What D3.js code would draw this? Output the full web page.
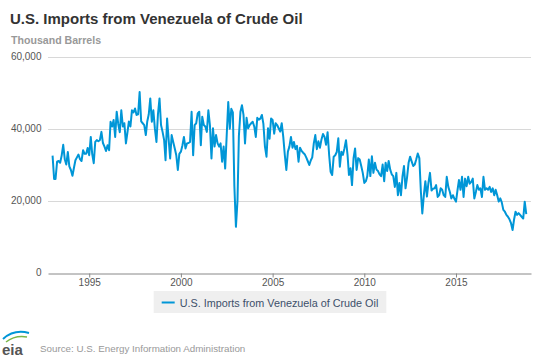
<!DOCTYPE html>
<html>
<head>
<meta charset="utf-8">
<script src="https://cdn.jsdelivr.net/npm/d3@7"></script>
<style>
  body { margin: 0; background: #fff; }
  text { font-family: "Liberation Sans", Arial, sans-serif; }
</style>
</head>
<body>
<div id="chart"></div>
<script>
var width = 540, height = 360;
var margin = { top: 56.7, right: 9, bottom: 87.5, left: 48 };

var chartTitle = "U.S. Imports from Venezuela of Crude Oil";
var unitLabel = "Thousand Barrels";
var seriesName = "U.S. Imports from Venezuela of Crude Oil";
var sourceText = "Source: U.S. Energy Information Administration";

var startYear = 1993;
var yTicks = [0, 20000, 40000, 60000];
var xTickYears = [1995, 2000, 2005, 2010, 2015];

// monthly, thousand barrels, Jan 1993 onward
var imports = [
  32500, 26000, 26000, 30800, 31000, 30500, 32500, 35500, 31500, 30000, 33500, 29500, // 1993
  28500, 26900, 29000, 31200, 32000, 32800, 31500, 31000, 34000, 33000, 33000, 34600, // 1994
  32600, 37700, 33000, 30400, 36300, 36800, 36500, 36800, 39100, 36000, 35000, 33800, // 1995
  35400, 34000, 41900, 40600, 42400, 37700, 44700, 41300, 39000, 45100, 40600, 41500, // 1996
  35900, 39000, 42000, 40600, 45100, 44500, 45600, 43800, 44000, 50200, 42000, 41500, // 1997
  41000, 38200, 41900, 44000, 48400, 41900, 45100, 40000, 36300, 44000, 48400, 41000, // 1998
  39100, 36800, 31200, 42800, 37200, 31700, 38200, 36300, 34500, 32600, 28500, 33000, // 1999
  33600, 35400, 37700, 34500, 35900, 36000, 36300, 44700, 32600, 41000, 41500, 44200, // 2000
  44700, 35400, 43300, 41000, 40600, 39100, 45100, 41000, 31700, 40100, 35000, 38200, // 2001
  35900, 35000, 35900, 30800, 35000, 28900, 38000, 47400, 40000, 45500, 44500, 24000, // 2002
  12700, 20000, 38000, 44700, 46500, 43800, 35900, 43000, 40100, 41000, 41500, 41900, // 2003
  40600, 37700, 43000, 42500, 42800, 43800, 41300, 35000, 32200, 40100, 37200, 42800, // 2004
  42400, 38600, 41500, 41000, 40100, 39200, 41500, 37700, 32600, 28500, 33600, 35000, // 2005
  37700, 34700, 36300, 34300, 35200, 30800, 34700, 33800, 33300, 32900, 32000, 31000, // 2006
  29900, 31200, 32000, 35900, 38200, 34300, 36500, 34700, 37000, 38500, 37700, 35500, // 2007
  39000, 32600, 28000, 27100, 32200, 32600, 33500, 37300, 29400, 33600, 32700, 34500, // 2008
  36800, 32700, 27100, 29000, 24300, 31800, 34500, 28500, 31800, 31400, 29600, 27700, // 2009
  24900, 25400, 26800, 31400, 26800, 32300, 27700, 30500, 28600, 28200, 27300, 26800, // 2010
  30000, 25400, 30500, 28200, 31000, 28600, 27300, 26800, 23800, 27700, 21500, 24900, // 2011
  21500, 26800, 29600, 23400, 26400, 30500, 32200, 30900, 29600, 30000, 31500, 33100, // 2012
  31800, 22400, 16400, 21500, 25400, 21100, 24900, 27700, 22800, 23300, 23400, 24300, // 2013
  21000, 21500, 23400, 23000, 21500, 21000, 26600, 23800, 22400, 20600, 21500, 20500, // 2014
  19700, 23000, 25700, 23000, 26600, 21000, 26100, 24000, 26600, 24700, 25200, 26100, // 2015
  20600, 22400, 24300, 23000, 23400, 21000, 26600, 23000, 23400, 23000, 23800, 22400, // 2016
  23400, 21500, 23000, 21500, 19700, 20600, 19500, 17400, 16900, 16000, 15500, 14800, // 2017
  13700, 11800, 14600, 16900, 16000, 16500, 16000, 15500, 15000, 19700, 16200          // 2018
];

var data = imports.map(function(v, i) {
  return { date: new Date(startYear, i, 1), value: v };
});

var svg = d3.select("#chart").append("svg")
  .attr("width", width)
  .attr("height", height);

var x = d3.scaleTime()
  .domain([new Date(1992, 9, 2), new Date(2019, 1, 3)])
  .range([margin.left, width - margin.right]);

var y = d3.scaleLinear()
  .domain([0, 60000])
  .range([height - margin.bottom, margin.top]);

// title + unit
svg.append("text")
  .attr("x", 10).attr("y", 23.5)
  .style("font-size", "15px").style("font-weight", "bold")
  .attr("fill", "#333")
  .text(chartTitle);

svg.append("text")
  .attr("x", 11).attr("y", 44)
  .style("font-size", "10.6px").style("font-weight", "bold")
  .attr("fill", "#999")
  .text(unitLabel);

// gridlines
svg.append("g")
  .selectAll("line")
  .data(yTicks.filter(function(d){ return d > 0; }))
  .enter().append("line")
  .attr("x1", margin.left).attr("x2", width - margin.right)
  .attr("y1", function(d){ return Math.round(y(d)) + 0.5; })
  .attr("y2", function(d){ return Math.round(y(d)) + 0.5; })
  .attr("stroke", "#d8d8d8")
  .attr("stroke-width", 1);

// y labels
svg.append("g")
  .selectAll("text")
  .data(yTicks)
  .enter().append("text")
  .attr("x", 41.5)
  .attr("y", function(d){ return y(d) + 3.6; })
  .attr("text-anchor", "end")
  .style("font-size", "10px")
  .attr("fill", "#555")
  .text(function(d){ return d3.format(",")(d); });

// x axis
var xAxis = d3.axisBottom(x)
  .tickValues(xTickYears.map(function(yr){ return new Date(yr, 0, 1); }))
  .tickFormat(d3.timeFormat("%Y"))
  .tickSize(4)
  .tickSizeOuter(0);

var gx = svg.append("g")
  .attr("transform", "translate(0," + (Math.round(y(0)) + 0.5) + ")")
  .call(xAxis);
gx.select(".domain").attr("stroke", "#888");
gx.selectAll(".tick line").attr("stroke", "#888");
gx.selectAll(".tick text")
  .attr("dy", "0.71em").attr("y", 5)
  .style("font-size", "10px")
  .style("font-family", "'Liberation Sans', Arial, sans-serif")
  .attr("fill", "#555");

// series line
var line = d3.line()
  .x(function(d){ return x(d.date); })
  .y(function(d){ return y(d.value); });

svg.append("path")
  .datum(data)
  .attr("fill", "none")
  .attr("stroke", "#0096d7")
  .attr("stroke-width", 2)
  .attr("stroke-linejoin", "round")
  .attr("d", line);

// legend
var legend = svg.append("g");
var legendBg = legend.append("rect")
  .attr("fill", "#efefef");
legend.append("line")
  .attr("x1", 162).attr("x2", 175)
  .attr("y1", 302.5).attr("y2", 302.5)
  .attr("stroke", "#0096d7").attr("stroke-width", 2);
var legendText = legend.append("text")
  .attr("x", 180).attr("y", 306.5)
  .style("font-size", "10.8px")
  .attr("fill", "#3d4f6a")
  .text(seriesName);
var tw = legendText.node().getComputedTextLength();
var boxW = (180 - 154) + tw + 8;
var boxX = (width - boxW) / 2;
legend.attr("transform", "translate(" + (boxX - 154) + ",0)");
legendBg.attr("x", 154).attr("y", 291).attr("width", boxW).attr("height", 22);

// source
svg.append("text")
  .attr("x", 40).attr("y", 351.5)
  .style("font-size", "9.8px")
  .attr("fill", "#999")
  .text(sourceText);

// eia logo
var logo = svg.append("g");
logo.append("path")
  .attr("d", "M3,339 Q14,329 29,333")
  .attr("fill", "none").attr("stroke", "#0096d7").attr("stroke-width", 2);
logo.append("path")
  .attr("d", "M6,342 Q15,335 27,337")
  .attr("fill", "none").attr("stroke", "#7ab648").attr("stroke-width", 1.5);
logo.append("text")
  .attr("x", 2).attr("y", 355)
  .style("font-size", "15px").style("font-weight", "bold")
  .attr("fill", "#555")
  .text("eia");
</script>
</body>
</html>
